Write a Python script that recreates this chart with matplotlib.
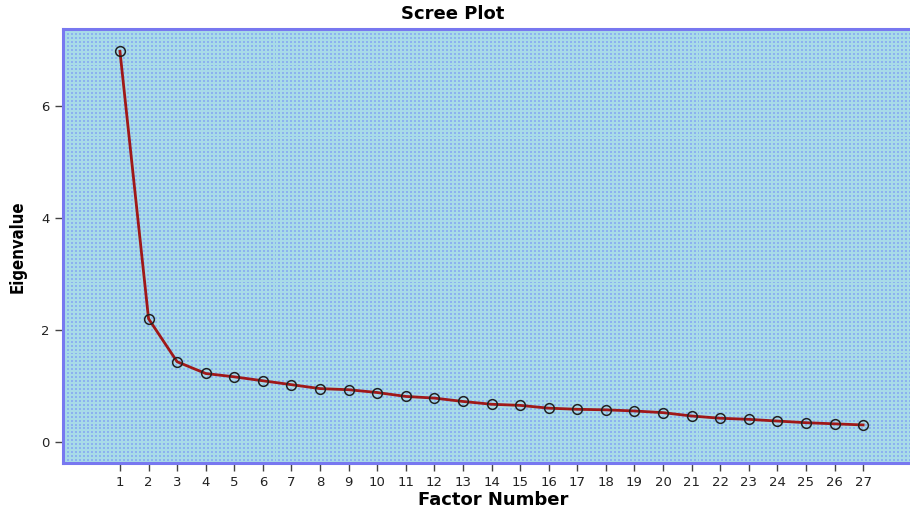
import numpy as np
import matplotlib
matplotlib.use('Agg')
import matplotlib.pyplot as plt

# Dados do scree plot
fatores = list(range(1, 28))
autovalores = [6.98, 2.20, 1.43, 1.22, 1.16, 1.09, 1.02, 0.95, 0.93, 0.88,
               0.81, 0.78, 0.72, 0.67, 0.65, 0.60, 0.58, 0.57, 0.55, 0.52,
               0.46, 0.42, 0.40, 0.37, 0.34, 0.32, 0.30]
ticks_y = [0, 2, 4, 6]

plt.rcParams['font.family'] = ['DejaVu Sans']

fig = plt.figure(figsize=(9.1, 5.13), dpi=100, facecolor='white')
ax = fig.add_axes([0.069, 0.0975, 0.931, 0.846])

ax.set_xlim(-1.0, 28.64)
ax.set_ylim(-0.38, 7.38)

# Fundo pontilhado estilo SPSS
h, w = 440, 850
yy, xx = np.mgrid[0:h, 0:w]
base = np.array([0.66, 0.86, 0.91])
ponto = np.array([0.55, 0.70, 0.94])
mask = ((xx % 4) < 2) & ((yy % 4) < 2)
textura = np.where(mask[..., None], ponto, base)
ax.imshow(textura, extent=[0, 1, 0, 1], transform=ax.transAxes,
          aspect='auto', interpolation='nearest', zorder=0)

ax.plot(fatores, autovalores, color='#A01818', linewidth=2, zorder=2)
ax.plot(fatores, autovalores, linestyle='none', marker='o', markersize=7,
        markerfacecolor='none', markeredgecolor='#222222',
        markeredgewidth=1.1, zorder=3)

ax.set_xticks(fatores)
ax.set_yticks(ticks_y)
ax.tick_params(axis='both', direction='out', length=6, width=1,
               color='#444444', labelsize=9.5, labelcolor='#222222')

for lado in ['left', 'top', 'bottom']:
    ax.spines[lado].set_color('#7878F0')
    ax.spines[lado].set_linewidth(2.2)
ax.spines['right'].set_visible(False)

# Título e rótulos (posições tiradas da imagem original, recortada à direita)
fig.text(453 / 910, 1 - 14 / 513, 'Scree Plot', fontsize=13,
         fontweight='bold', ha='center', va='center')
fig.text(493 / 910, 1 - 500 / 513, 'Factor Number', fontsize=13,
         fontweight='bold', ha='center', va='center')
fig.text(18 / 910, 1 - 247 / 513, 'Eigenvalue', fontsize=12,
         fontweight='bold', fontstretch='condensed', rotation=90,
         ha='center', va='center')

plt.savefig('out.png', dpi=100)
